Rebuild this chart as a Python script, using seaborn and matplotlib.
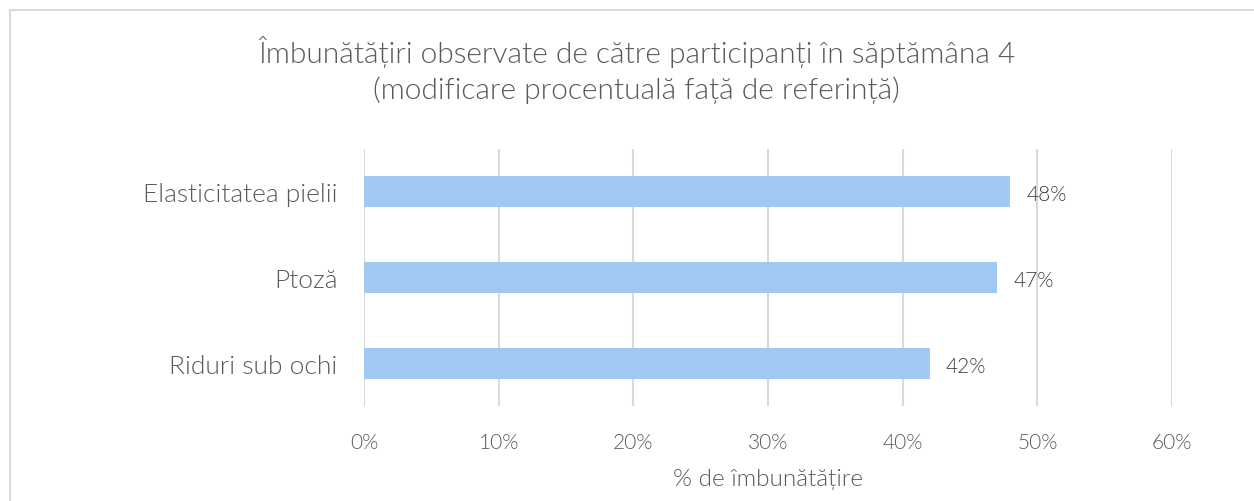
import matplotlib
matplotlib.use("Agg")
import matplotlib.pyplot as plt
import seaborn as sns
import pandas as pd
from matplotlib.patches import Rectangle
from matplotlib.ticker import FuncFormatter

categories = ["Elasticitatea pielii", "Ptoză", "Riduri sub ochi"]
values = [48, 47, 42]
xticks = [0, 10, 20, 30, 40, 50, 60]

sns.set_style("white")
plt.rcParams["font.family"] = ["Lato", "DejaVu Sans"]
plt.rcParams["font.weight"] = 300

text_col = "#595959"
grid_col = "#D9D9D9"
bar_col = "#9FC9F1"

df = pd.DataFrame({"cat": categories, "val": values})

fig = plt.figure(figsize=(12.54, 5.02), dpi=100)
ax = fig.add_axes([364 / 1254, 95 / 502, 808 / 1254, 257 / 502])

sns.barplot(data=df, x="val", y="cat", color=bar_col, width=0.36, ax=ax,
            saturation=1, edgecolor="none")

ax.set_xlim(0, 60)
ax.set_xticks(xticks)
ax.xaxis.set_major_formatter(FuncFormatter(lambda v, p: f"{v:.0f}%"))
ax.grid(axis="x", color=grid_col, linewidth=1.5)
ax.set_axisbelow(True)
for s in ax.spines.values():
    s.set_visible(False)
ax.tick_params(axis="x", length=0, pad=19, labelsize=15, labelcolor=text_col)
ax.tick_params(axis="y", length=0, pad=19, labelsize=19, labelcolor=text_col)
for lab in ax.get_yticklabels() + ax.get_xticklabels():
    lab.set_fontweight(300)
ax.set_ylabel("")
ax.set_xlabel("% de îmbunătățire", fontsize=17.5, color=text_col, labelpad=11,
              fontweight=300)

for i, v in enumerate(values):
    ax.text(v + 1.2, i + 0.03, f"{v}%", va="center", ha="left", fontsize=15,
            color="#3F3F3F", fontweight=300)

title_x = 636.5 / 1254
fig.text(title_x, 1 - 52 / 502, "Îmbunătățiri observate de către participanți în săptămâna 4",
         ha="center", va="center", fontsize=21.5, color=text_col, fontweight=300)
fig.text(title_x, 1 - 90 / 502, "(modificare procentuală față de referință)",
         ha="center", va="center", fontsize=21.5, color=text_col, fontweight=300)

fig.patches.append(Rectangle((10 / 1254, -0.05), 1.1, 1 - 11 / 502 + 0.05,
                             transform=fig.transFigure, fill=False,
                             edgecolor=grid_col, linewidth=1.5))

fig.savefig("out.png", dpi=100, facecolor="white")
